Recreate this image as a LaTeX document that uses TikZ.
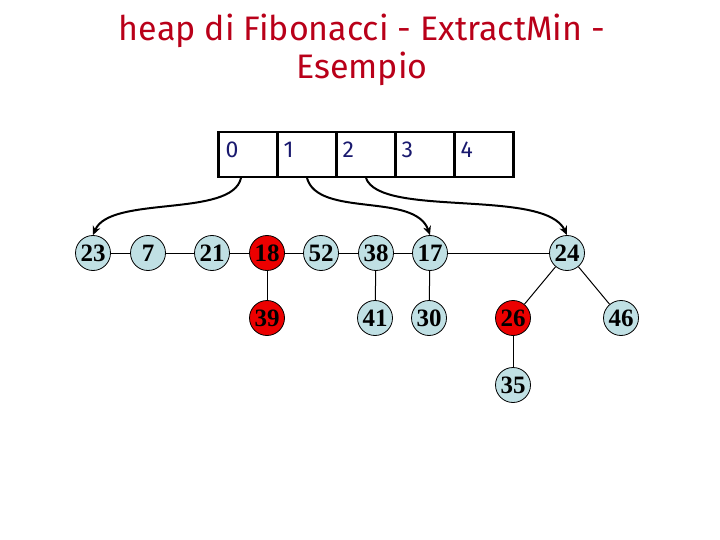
\documentclass[tikz,border=0pt]{standalone}
\usepackage{fontspec}
\setmainfont{Liberation Serif}
\newfontfamily\titlefont{Fira Sans}
\usetikzlibrary{arrows.meta}
\definecolor{titlered}{RGB}{185,0,25}
\definecolor{nodeblue}{RGB}{192,224,228}
\definecolor{nodered}{RGB}{236,0,0}
\definecolor{navy}{RGB}{25,25,110}
\begin{document}
\begin{tikzpicture}[x=1pt,y=-1pt,
  hn/.style={circle,draw=black,line width=0.8pt,fill=nodeblue,minimum size=35pt,inner sep=0pt,font=\bfseries\fontsize{25}{25}\selectfont},
  rn/.style={hn,fill=nodered},
  cell/.style={draw=black,line width=2.6pt,minimum width=59pt,minimum height=45pt,inner sep=0pt},
  idx/.style={font=\titlefont\fontsize{23}{23}\selectfont,text=navy,anchor=west},
  lnk/.style={line width=1pt},
  ptr/.style={line width=2pt,-{Stealth[length=9pt,width=8pt]}}]
\useasboundingbox (0,0) rectangle (720,540);
\node[font=\titlefont\fontsize{34}{38}\selectfont,text=titlered,align=center] (title) at (362,50) {heap di Fibonacci - ExtractMin -\\Esempio};
% array
\node[cell] (c0) at (248,154.5) {};
\node[cell] (c1) at (307,154.5) {};
\node[cell] (c2) at (366,154.5) {};
\node[cell] (c3) at (425,154.5) {};
\node[cell] (c4) at (484,154.5) {};
\node[idx] (l0) at (222,150) {0};
\node[idx] (l1) at (280,150) {1};
\node[idx] (l2) at (339,150) {2};
\node[idx] (l3) at (398,150) {3};
\node[idx] (l4) at (457,150) {4};
% nodes
\node[hn] (n23) at (93,253) {23};
\node[hn] (n7) at (148,253) {7};
\node[hn] (n21) at (212,253) {21};
\node[rn] (n18) at (267,253) {18};
\node[hn] (n52) at (321,253) {52};
\node[hn] (n38) at (376,253) {38};
\node[hn] (n17) at (430,253) {17};
\node[hn] (n24) at (567,253) {24};
\node[rn] (n39) at (267,318) {39};
\node[hn] (n41) at (375,318) {41};
\node[hn] (n30) at (429,318) {30};
\node[rn] (n26) at (513,318) {26};
\node[hn] (n46) at (621,318) {46};
\node[hn] (n35) at (513,385) {35};
% links
\draw[lnk] (n23) -- (n7);
\draw[lnk] (n7) -- (n21);
\draw[lnk] (n21) -- (n18);
\draw[lnk] (n18) -- (n52);
\draw[lnk] (n52) -- (n38);
\draw[lnk] (n38) -- (n17);
\draw[lnk] (n17) -- (n24);
\draw[lnk] (n18) -- (n39);
\draw[lnk] (n38) -- (n41);
\draw[lnk] (n17) -- (n30);
\draw[lnk] (n24) -- (n26);
\draw[lnk] (n24) -- (n46);
\draw[lnk] (n26) -- (n35);
% pointers
\coordinate (p0) at (241,178);
\coordinate (p1) at (307,178);
\coordinate (p2) at (366,178);
\draw[ptr] (p0) .. controls (232,218) and (110,195) .. (n23.north);
\draw[ptr] (p1) .. controls (318,218) and (415,192) .. (n17.north);
\draw[ptr] (p2) .. controls (380,218) and (545,188) .. (n24.north);
\end{tikzpicture}
\end{document}
